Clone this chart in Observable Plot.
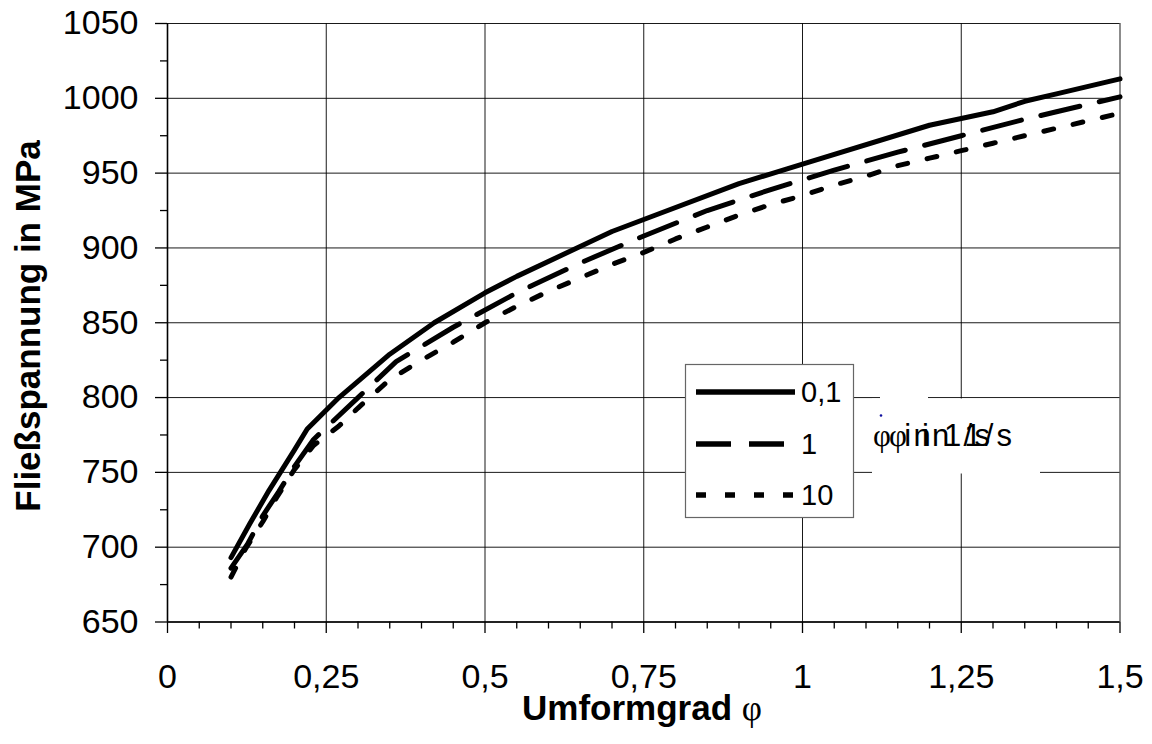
<!DOCTYPE html>
<html><head><meta charset="utf-8">
<script src="https://cdn.jsdelivr.net/npm/d3@7"></script>
<script src="https://cdn.jsdelivr.net/npm/@observablehq/plot@0.6"></script>
<style>body{margin:0;background:#fff;} svg{display:block;}</style>
</head><body><div id="chart"></div>
<script>
// Strain-rate series (legend labels) in 1/s
const rates = ["0,1", "1", "10"];

// Umformgrad φ and Fließspannung (MPa) for rate 0,1 1/s
const phi01   = [0.1, 0.13, 0.16, 0.2, 0.22, 0.27, 0.35, 0.42, 0.5, 0.55, 0.7, 0.75, 0.9, 1.0, 1.2, 1.3, 1.35, 1.4, 1.5];
const sigma01 = [693, 716, 738, 765, 779, 800, 829, 850, 870, 881, 911, 919, 943, 956, 982, 991, 998, 1003, 1013];

// rate 1 1/s
const phi1   = [0.1, 0.126, 0.15, 0.175, 0.2, 0.23, 0.3, 0.36, 0.45, 0.55, 0.65, 0.75, 0.85, 0.95, 1.05, 1.15, 1.25, 1.35, 1.4, 1.5];
const sigma1 = [686, 702, 721, 737, 754, 772, 800, 824, 847, 870, 890, 908, 925, 939, 952, 964, 975, 986, 991, 1001];

// rate 10 1/s
const phi10   = [0.1, 0.123, 0.15, 0.173, 0.2, 0.23, 0.27, 0.3, 0.35, 0.4, 0.45, 0.5, 0.55, 0.6, 0.65, 0.7, 0.75, 0.8, 0.85, 0.9, 0.95, 1.0, 1.05, 1.1, 1.15, 1.2, 1.25, 1.3, 1.35, 1.4, 1.5];
const sigma10 = [680, 699, 717, 734, 752, 768, 781, 793, 812, 825, 837, 850, 861, 871, 880, 889, 897, 906, 914, 922, 929, 935, 942, 948, 955, 960, 965, 970, 975, 980, 990];

// Axis ticks
const xMajor = [0, 0.25, 0.5, 0.75, 1, 1.25, 1.5];
const xMinor = [0.05, 0.1, 0.15, 0.2, 0.3, 0.35, 0.4, 0.45, 0.55, 0.6, 0.65, 0.7, 0.8, 0.85, 0.9, 0.95, 1.05, 1.1, 1.15, 1.2, 1.3, 1.35, 1.4, 1.45];
const yMajor = [650, 700, 750, 800, 850, 900, 950, 1000, 1050];
const yMinor = [675, 725, 775, 825, 875, 925, 975, 1025];

const xLabel = "Umformgrad ";
const xLabelSym = "φ";
const yLabel = "Fließspannung in MPa";
const unitLabel = " in 1/s";

const fmt = d => String(d).replace(".", ",");
const rows = (phi, s, rate) => phi.map((p, i) => ({phi: p, sigma: s[i], rate}));
const d01 = rows(phi01, sigma01, rates[0]);
const d1 = rows(phi1, sigma1, rates[1]);
const d10 = rows(phi10, sigma10, rates[2]);

const FONT = "'Liberation Sans', Arial, Helvetica, sans-serif";
const SERIF = "'Liberation Serif', 'DejaVu Serif', serif";

const chart = Plot.plot({
  width: 1152, height: 744,
  marginLeft: 167, marginRight: 32.5, marginTop: 23, marginBottom: 122.5,
  x: {domain: [0, 1.5]},
  y: {domain: [650, 1050]},
  style: {fontFamily: FONT, background: "#fff", color: "#000"},
  marks: [
    Plot.gridX({ticks: xMajor, stroke: "#000", strokeOpacity: 0.9, strokeWidth: 1}),
    Plot.gridY({ticks: yMajor, stroke: "#000", strokeOpacity: 0.9, strokeWidth: 1}),
    Plot.axisX({ticks: xMajor, tickSize: 11.5, tickPadding: 30, tickFormat: fmt, fontSize: 34, label: null, stroke: "#000", strokeWidth: 1.3}),
    Plot.axisX({ticks: xMinor, tickSize: 7, tickFormat: () => "", label: null, stroke: "#000", strokeWidth: 1.3}),
    Plot.axisY({ticks: yMajor, tickSize: 12, tickPadding: 17, tickFormat: fmt, fontSize: 34, label: null, stroke: "#000", strokeWidth: 1.3}),
    Plot.axisY({ticks: yMinor, tickSize: 7, tickFormat: () => "", label: null, stroke: "#000", strokeWidth: 1.3}),
    Plot.ruleX([0], {stroke: "#000", strokeWidth: 1.6}),
    Plot.ruleY([650], {stroke: "#000", strokeWidth: 1.6}),
    Plot.line(d01, {x: "phi", y: "sigma", stroke: "#000", strokeWidth: 5}),
    Plot.line(d1, {x: "phi", y: "sigma", stroke: "#000", strokeWidth: 5, strokeDasharray: "40,20"}),
    Plot.line(d10, {x: "phi", y: "sigma", stroke: "#000", strokeWidth: 5, strokeDasharray: "10,20"})
  ]
});

document.getElementById("chart").appendChild(chart);
const svg = d3.select(chart);

// Axis titles
svg.append("text")
  .attr("transform", "translate(40,326) rotate(-90)")
  .attr("text-anchor", "middle")
  .style("font-family", FONT).style("font-weight", "bold").style("font-size", "35px")
  .text(yLabel);

const xt = svg.append("text")
  .attr("x", 642).attr("y", 720)
  .attr("text-anchor", "middle")
  .style("font-family", FONT).style("font-weight", "bold").style("font-size", "35px");
xt.append("tspan").text(xLabel);
xt.append("tspan").style("font-family", SERIF).style("font-weight", "normal").text(xLabelSym);

// Legend
const lg = svg.append("g").attr("text-anchor", "start");
lg.append("rect").attr("x", 685.5).attr("y", 364.5).attr("width", 168).attr("height", 153)
  .attr("fill", "#fff").attr("stroke", "#666").attr("stroke-width", 1.2);
const legendItems = [
  {label: rates[0], y: 392, dash: null, x2: 795},
  {label: rates[1], y: 444, dash: "35,18", x2: 785},
  {label: rates[2], y: 495, dash: "10,19", x2: 796}
];
legendItems.forEach(it => {
  const l = lg.append("line").attr("x1", 696).attr("x2", it.x2).attr("y1", it.y).attr("y2", it.y)
    .attr("stroke", "#000").attr("stroke-width", 5.5);
  if (it.dash) l.attr("stroke-dasharray", it.dash);
  lg.append("text").attr("x", 801).attr("y", it.y + 9.5).attr("text-anchor", "start")
    .style("font-family", FONT).style("font-size", "29px").text(it.label);
});

// Unit annotation (duplicated, overlapping as in the original)
const ann = svg.append("g").attr("text-anchor", "start");
ann.append("rect").attr("x", 880).attr("y", 390).attr("width", 48).attr("height", 9).attr("fill", "#fff");
ann.append("rect").attr("x", 872).attr("y", 398.5).attr("width", 168).attr("height", 75).attr("fill", "#fff");
ann.append("circle").attr("cx", 881).attr("cy", 415.5).attr("r", 1.3).attr("fill", "#1010a0");
[{x: 873, len: 117}, {x: 889, len: 123}].forEach(c => {
  const t = ann.append("text").attr("x", c.x).attr("y", 446).attr("text-anchor", "start")
    .attr("textLength", c.len).attr("lengthAdjust", "spacing")
    .style("font-family", FONT).style("font-size", "31px");
  t.append("tspan").style("font-family", SERIF).text(xLabelSym);
  t.append("tspan").text(unitLabel);
});
</script>
</body></html>
